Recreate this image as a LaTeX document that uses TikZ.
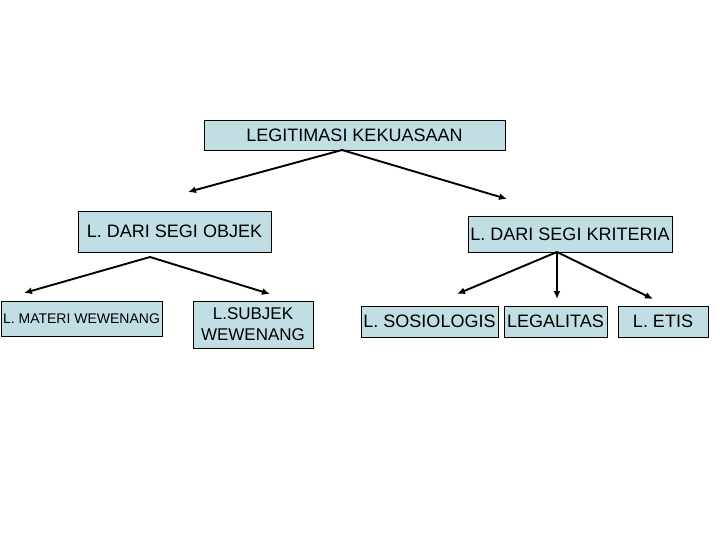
\documentclass[tikz,border=0pt]{standalone}
\usepackage{fontspec}
\setmainfont{Liberation Sans}
\usetikzlibrary{arrows.meta}

\definecolor{boxblue}{RGB}{192,222,228}

\begin{document}
\begin{tikzpicture}[x=1pt, y=-1pt,
    box/.style={draw, fill=boxblue, line width=0.8pt, inner sep=0pt, align=center, font=\fontsize{18}{20}\selectfont},
    arr/.style={-{Latex[length=8pt,width=7pt]}, line width=1.9pt}]
  \useasboundingbox (0,0) rectangle (720,540);

  % Top level
  \node[box, minimum width=301pt, minimum height=30pt] (legit) at (354.5,135.5) {LEGITIMASI KEKUASAAN};

  % Second level
  \node[box, minimum width=193pt, minimum height=41pt] (objek) at (174.5,231.5) {L. DARI SEGI OBJEK};
  \node[box, minimum width=204pt, minimum height=36pt] (krit) at (570,234) {L. DARI SEGI KRITERIA};

  % Third level
  \node[box, minimum width=161pt, minimum height=35pt, font=\fontsize{14}{16}\selectfont] (materi) at (81.5,318.5) {L. MATERI WEWENANG};
  \node[box, minimum width=120pt, minimum height=47pt, font=\fontsize{17}{21}\selectfont] (subjek) at (253,324.5) {L.SUBJEK\\WEWENANG};
  \node[box, minimum width=137pt, minimum height=31pt] (sosio) at (429.5,321.5) {L. SOSIOLOGIS};
  \node[box, minimum width=103pt, minimum height=31pt] (legal) at (555.5,321.5) {LEGALITAS};
  \node[box, minimum width=90pt, minimum height=31pt] (etis) at (663,321.5) {L. ETIS};

  % arrow start and end points
  \coordinate (legit-out) at (342,150);
  \coordinate (objek-out) at (150,257);
  \coordinate (krit-out) at (557,252);
  \coordinate (objek-in) at (188,192);
  \coordinate (krit-in) at (507,199);
  \coordinate (materi-in) at (24,293);
  \coordinate (subjek-in) at (270,294);
  \coordinate (sosio-in) at (457,294);
  \coordinate (legal-in) at (557,299);
  \coordinate (etis-in) at (653,299);

  \draw[arr] (legit-out) -- (objek-in);
  \draw[arr] (legit-out) -- (krit-in);
  \draw[arr] (objek-out) -- (materi-in);
  \draw[arr] (objek-out) -- (subjek-in);
  \draw[arr] (krit-out) -- (sosio-in);
  \draw[arr] (krit-out) -- (legal-in);
  \draw[arr] (krit-out) -- (etis-in);
\end{tikzpicture}
\end{document}
